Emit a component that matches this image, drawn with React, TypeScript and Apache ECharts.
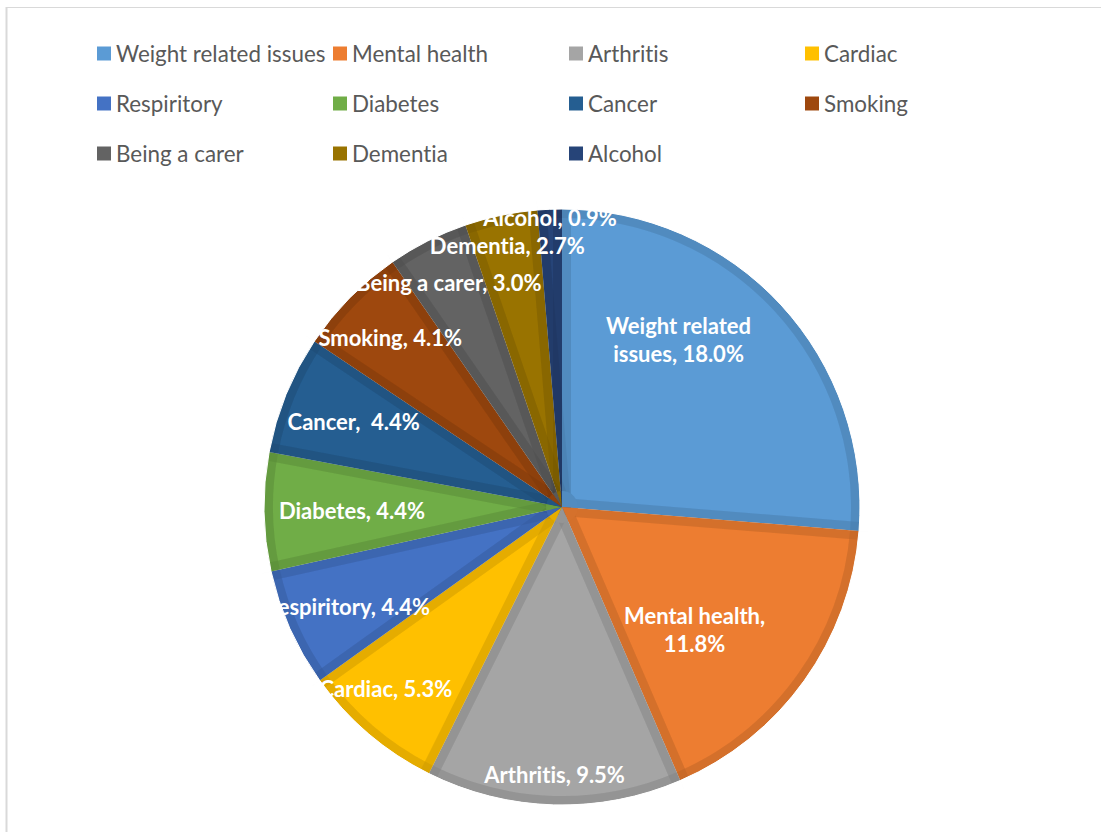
import React, { useEffect, useRef } from "react";
import * as echarts from "echarts";

// ---- data ----
const CATEGORIES = [
  "Weight related issues",
  "Mental health",
  "Arthritis",
  "Cardiac",
  "Respiritory",
  "Diabetes",
  "Cancer",
  "Smoking",
  "Being a carer",
  "Dementia",
  "Alcohol",
];
const VALUES = [18.0, 11.8, 9.5, 5.3, 4.4, 4.4, 4.4, 4.1, 3.0, 2.7, 0.9];
const LABEL_NAMES = [
  "Weight related\nissues",
  "Mental health",
  "Arthritis",
  "Cardiac",
  "Respiritory",
  "Diabetes",
  "Cancer",
  "Smoking",
  "Being a carer",
  "Dementia",
  "Alcohol",
];
const LABEL_SEPARATORS = [", ", ",\n", ", ", ", ", ", ", ", ", ",  ", ", ", ", ", ", ", ", "];

// ---- style / layout ----
const COLORS = [
  "#5B9BD5",
  "#ED7D31",
  "#A5A5A5",
  "#FFC000",
  "#4472C4",
  "#70AD47",
  "#255E91",
  "#9E480E",
  "#636363",
  "#997300",
  "#264478",
];
const CENTER = [562, 507];
const R = 298;
const BAND = 9;
const SHADE = "rgba(0,0,0,0.0513)";
const LABEL_RADIUS = [244, 208, 265, 236, 240, 207, 222, 238, 248, 264, 287];
const LABEL_PADDING: any[] = [
  [0, 130, 0, 0],
  [0, 78, 0, 0],
  0,
  [0, 42, 0, 0],
  [0, 0, 0, 14],
  0, 0, 0, 0, 0, 0,
];

function darken(hex: string, f: number) {
  const n = parseInt(hex.slice(1), 16);
  const r = Math.round(((n >> 16) & 255) * f);
  const g = Math.round(((n >> 8) & 255) * f);
  const b = Math.round((n & 255) * f);
  return `rgb(${r},${g},${b})`;
}

const baseData = (extra: (i: number) => any) =>
  VALUES.map((v, i) => ({ name: CATEGORIES[i], value: v, ...extra(i) }));

export default function App() {
  const ref = useRef<HTMLDivElement>(null);

  useEffect(() => {
    if (!ref.current) return;
    const chart = echarts.init(ref.current, null, { renderer: "svg" });

    const common = {
      type: "pie",
      center: CENTER,
      startAngle: 90,
      clockwise: true,
      silent: true,
      animation: false,
      minShowLabelAngle: 0,
      avoidLabelOverlap: false,
      label: { show: false },
      labelLine: { show: false },
      labelLayout: { hideOverlap: false },
      emphasis: { disabled: true },
    };

    const labelSeries = VALUES.map((_, k) => ({
      ...common,
      radius: [0, LABEL_RADIUS[k] * 2],
      itemStyle: { color: "rgba(0,0,0,0)" },
      z: 10,
      data: baseData((i) => ({
        label:
          i === k
            ? {
                show: true,
                position: "inside",
                formatter: () =>
                  `${LABEL_NAMES[i]}${LABEL_SEPARATORS[i]}${VALUES[i].toFixed(1)}%`,
                color: "#ffffff",
                fontFamily: "Lato",
                fontWeight: "bold",
                fontSize: 22,
                lineHeight: 28,
                align: "center",
                padding: LABEL_PADDING[i],
              }
            : { show: false },
      })),
    }));

    const option: any = {
      animation: false,
      backgroundColor: "#ffffff",
      graphic: [
        {
          type: "line",
          shape: { x1: 6, y1: 7.5, x2: 1101, y2: 7.5 },
          style: { stroke: "#d9d9d9", lineWidth: 1 },
          silent: true,
        },
        {
          type: "line",
          shape: { x1: 6.5, y1: 7, x2: 6.5, y2: 832 },
          style: { stroke: "#d9d9d9", lineWidth: 2 },
          silent: true,
        },
      ],
      legend: {
        data: CATEGORIES,
        left: 97,
        top: 32,
        width: 950,
        padding: 0,
        itemWidth: 14,
        itemHeight: 14,
        itemGap: 7,
        icon: "rect",
        selectedMode: false,
        textStyle: {
          fontFamily: "Lato",
          fontSize: 22.4,
          color: "#595959",
          width: 210,
          lineHeight: 43,
        },
      },
      series: [
        {
          ...common,
          radius: R,
          itemStyle: { color: (p: any) => COLORS[p.dataIndex] },
          data: baseData((i) => ({ itemStyle: { color: COLORS[i] } })),
        },
        {
          ...common,
          radius: R,
          itemStyle: {
            color: "rgba(0,0,0,0)",
            borderColor: SHADE,
            borderWidth: BAND * 2,
            borderJoin: "round",
          },
          data: baseData(() => ({})),
        },
        {
          ...common,
          radius: [R - BAND, R],
          itemStyle: { color: SHADE, borderWidth: 0 },
          data: baseData(() => ({})),
        },
        {
          ...common,
          radius: 16,
          itemStyle: { borderWidth: 0 },
          data: baseData((i) => ({ itemStyle: { color: darken(COLORS[i], 0.9) } })),
        },
        {
          ...common,
          radius: [R, R + 16],
          itemStyle: { color: "#ffffff", borderColor: "#ffffff", borderWidth: 1 },
          data: baseData(() => ({})),
        },
        ...labelSeries,
      ],
    };

    chart.setOption(option);
    return () => chart.dispose();
  }, []);

  return (
    <div
      ref={ref}
      style={{
        position: "fixed",
        left: 0,
        top: 0,
        width: 1101,
        height: 832,
        fontVariantLigatures: "none",
      }}
    />
  );
}
